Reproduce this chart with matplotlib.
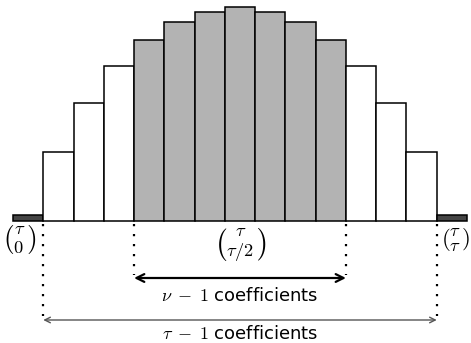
import matplotlib
matplotlib.use("Agg")
import matplotlib.pyplot as plt

plt.rcParams['mathtext.fontset'] = 'cm'
plt.rcParams['font.family'] = ['DejaVu Sans']

heights = [6, 69, 118, 155, 181, 199, 209, 214, 209, 199, 181, 155, 118, 69, 6]
kinds = ['end', 'outer', 'outer', 'outer', 'mid', 'mid', 'mid', 'mid', 'mid', 'mid', 'mid',
         'outer', 'outer', 'outer', 'end']
colors = {'end': '#454545', 'outer': 'white', 'mid': '#b3b3b3'}

fig = plt.figure(figsize=(4.71, 3.43), dpi=100)
ax = fig.add_axes([0, 0, 1, 1])
ax.set_xlim(-0.929, 14.632)
ax.set_ylim(-122, 221)
ax.axis('off')

x = list(range(len(heights)))
ax.bar(x, heights, width=1.0, color=[colors[k] for k in kinds],
       edgecolor='black', linewidth=1.1)

# dotted guide lines
for xv, ybot in [(0.5, -95), (3.5, -54), (10.5, -54), (13.5, -95)]:
    ax.plot([xv, xv], [-3, ybot], color='black', linestyle=(0, (1, 3.5)),
            linewidth=1.6, solid_capstyle='butt')

# arrows
ax.annotate('', xy=(3.5, -57), xytext=(10.5, -57),
            arrowprops=dict(arrowstyle='<->', color='black', lw=1.6,
                            shrinkA=0, shrinkB=0, mutation_scale=14))
ax.annotate('', xy=(0.5, -99), xytext=(13.5, -99),
            arrowprops=dict(arrowstyle='<->', color='#555555', lw=1.0,
                            shrinkA=0, shrinkB=0, mutation_scale=10))

ax.text(7, -75, r'$\nu\;-\;1$ coefficients', ha='center', va='center', fontsize=13)
ax.text(7, -113, r'$\tau\;-\;1$ coefficients', ha='center', va='center', fontsize=13)

ax.text(-0.27, -19, r'$\binom{\tau}{0}$', ha='center', va='center', fontsize=19)
ax.text(14.13, -19, r'$\binom{\tau}{\tau}$', ha='center', va='center', fontsize=19)
ax.text(7.0, -25, r'$\binom{\tau}{\tau/2}$', ha='center', va='center', fontsize=19)

fig.savefig('out.png', dpi=100)
